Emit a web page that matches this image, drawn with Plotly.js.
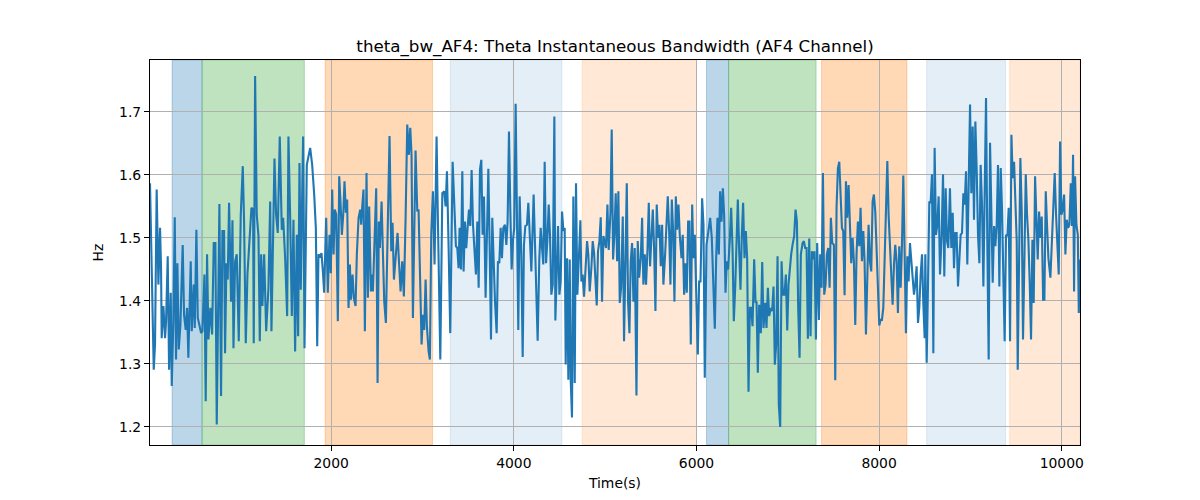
<!DOCTYPE html>
<html>
<head>
<meta charset="utf-8">
<script src="https://cdn.plot.ly/plotly-3.0.1.min.js"></script>
<style>
  body { margin: 0; background: #fff; }
  #myDiv { width: 1200px; height: 500px; }
</style>
</head>
<body>
<div id="myDiv"></div>
<script>
//  ======== DATA ========
var timeS = [
  16, 42, 57, 71, 89, 108, 126, 137, 144, 163, 181, 192, 210, 225, 243, 254, 272, 287, 301, 316,
  331, 349, 374, 389, 407, 422, 436, 462, 473, 495, 506, 524, 539, 557, 575, 590, 612, 626, 641, 656,
  677, 696, 714, 732, 747, 776, 794, 809, 827, 838, 853, 867, 882, 904, 919, 930, 948, 966, 988, 1010,
  1032, 1046, 1065, 1083, 1105, 1127, 1145, 1152, 1167, 1185, 1204, 1218, 1233, 1247, 1266, 1288, 1313, 1332, 1346, 1364,
  1379, 1397, 1415, 1437, 1459, 1474, 1496, 1518, 1532, 1551, 1569, 1587, 1605, 1624, 1638, 1653, 1667, 1679, 1693, 1708,
  1733, 1770, 1792, 1814, 1832, 1847, 1861, 1880, 1894, 1909, 1923, 1945, 1963, 1982, 1996, 2011, 2026, 2040, 2055, 2073,
  2088, 2102, 2117, 2132, 2146, 2161, 2175, 2190, 2205, 2216, 2234, 2248, 2267, 2281, 2300, 2318, 2329, 2340, 2354, 2369,
  2387, 2402, 2416, 2435, 2446, 2457, 2471, 2493, 2508, 2522, 2533, 2552, 2566, 2581, 2599, 2617, 2639, 2658, 2672, 2687,
  2705, 2727, 2742, 2760, 2778, 2796, 2815, 2833, 2851, 2866, 2880, 2895, 2924, 2943, 2957, 2975, 2990, 3005, 3019, 3034,
  3048, 3067, 3081, 3096, 3114, 3132, 3154, 3169, 3195, 3217, 3238, 3253, 3268, 3286, 3304, 3330, 3348, 3366, 3381, 3395,
  3406, 3421, 3436, 3450, 3465, 3479, 3494, 3509, 3523, 3538, 3553, 3571, 3585, 3600, 3615, 3629, 3644, 3658, 3673, 3691,
  3706, 3721, 3735, 3750, 3764, 3779, 3794, 3812, 3826, 3841, 3856, 3870, 3885, 3903, 3918, 3932, 3947, 3962, 3976, 3991,
  4005, 4020, 4035, 4049, 4064, 4082, 4097, 4111, 4126, 4144, 4159, 4174, 4192, 4217, 4236, 4261, 4279, 4294, 4309, 4323,
  4338, 4353, 4367, 4382, 4396, 4411, 4426, 4444, 4455, 4469, 4484, 4499, 4513, 4528, 4543, 4557, 4568, 4583, 4597, 4612,
  4623, 4637, 4652, 4667, 4681, 4696, 4714, 4729, 4740, 4754, 4769, 4787, 4802, 4816, 4831, 4849, 4864, 4879, 4893, 4908,
  4922, 4937, 4952, 4966, 4981, 4996, 5010, 5025, 5039, 5058, 5072, 5087, 5101,
  5116, 5131, 5145, 5160, 5175, 5193, 5207, 5222, 5237, 5251, 5266, 5280, 5295, 5310, 5324, 5343, 5357, 5372, 5390, 5405,
  5419, 5434, 5448, 5463, 5478, 5492, 5507, 5522, 5536, 5551, 5565, 5580, 5595, 5609, 5624, 5638, 5657, 5671, 5686, 5701,
  5715, 5730, 5744, 5759, 5774, 5788, 5803, 5817, 5836, 5850, 5865, 5880, 5894, 5909, 5923, 5938, 5953, 5967, 5982, 5996,
  6015, 6029, 6044, 6062, 6077, 6091, 6110, 6128, 6150, 6168, 6183, 6201, 6216, 6230, 6245, 6259, 6274, 6289, 6303, 6318,
  6332, 6347, 6365, 6380, 6395, 6409, 6424, 6438, 6453, 6468, 6482, 6497, 6511, 6526, 6541, 6555, 6570, 6585, 6599, 6614,
  6632, 6647, 6658, 6672, 6687, 6705, 6720, 6734, 6753, 6767, 6782, 6796,
  6815, 6829, 6844, 6858, 6873, 6888, 6902, 6917, 6932, 6946, 6964, 6979, 6994, 7008, 7023, 7037, 7052, 7070, 7085, 7100,
  7114, 7129, 7143, 7162, 7176, 7191, 7206, 7220, 7235, 7249, 7264, 7279, 7293, 7308, 7322, 7341, 7355, 7370, 7385, 7399,
  7414, 7428, 7443, 7458, 7472, 7487, 7505, 7520, 7534, 7549, 7564, 7578, 7593, 7607, 7622, 7637, 7651, 7666, 7680, 7695,
  7710, 7724, 7739, 7753, 7768, 7783, 7797, 7812, 7827, 7841, 7856, 7870, 7885, 7900, 7914, 7929, 7943, 7958, 7973, 7987,
  8002, 8016, 8031, 8046, 8060, 8075, 8090, 8104, 8119, 8133, 8148, 8163, 8177, 8192, 8206, 8221, 8236, 8250, 8265, 8280,
  8294, 8309, 8323, 8338, 8353, 8367, 8382, 8396, 8411, 8426, 8440, 8455, 8470, 8484, 8499,
  8506, 8521, 8535, 8550, 8565, 8579, 8594, 8608, 8623, 8638, 8652, 8667, 8685, 8700, 8714, 8729, 8744, 8758, 8776, 8791,
  8806, 8820, 8835, 8849, 8864, 8879, 8893, 8908, 8923, 8937, 8952, 8966, 8981, 8996, 9010, 9025, 9039, 9054, 9069, 9083,
  9098, 9112, 9127, 9142, 9156, 9171, 9186, 9200, 9215, 9229, 9244, 9259, 9273, 9288, 9302, 9317, 9332, 9346, 9361, 9375,
  9390, 9405, 9419, 9434, 9449, 9463, 9478, 9492, 9507, 9518, 9533, 9547, 9562, 9576, 9591, 9606, 9620, 9635, 9650, 9664,
  9679, 9693, 9708, 9723, 9737, 9752, 9766, 9781, 9796, 9810, 9825, 9839, 9854, 9876, 9894, 9909, 9923, 9938, 9953, 9967,
  9982, 9997, 10011, 10026, 10040, 10055, 10070, 10084, 10099, 10113, 10124, 10135, 10146, 10161, 10176, 10187, 10197
];

var bandwidthHz = [
  1.587, 1.421, 1.291, 1.331, 1.577, 1.426, 1.516, 1.452, 1.341, 1.392, 1.341, 1.368, 1.471, 1.291, 1.413, 1.265, 1.368, 1.533, 1.307, 1.460,
  1.323, 1.362, 1.489, 1.378, 1.354, 1.389, 1.310, 1.463, 1.352, 1.426, 1.357, 1.513, 1.373, 1.362, 1.349, 1.352, 1.442, 1.241, 1.474, 1.339,
  1.389, 1.347, 1.492, 1.492, 1.204, 1.554, 1.249, 1.511, 1.511, 1.317, 1.460, 1.434, 1.556, 1.399, 1.528, 1.325, 1.463, 1.474, 1.336, 1.537,
  1.614, 1.526, 1.333, 1.442, 1.495, 1.548, 1.545, 1.333, 1.757, 1.537, 1.503, 1.336, 1.474, 1.392, 1.474, 1.352, 1.421, 1.558, 1.352, 1.505,
  1.626, 1.537, 1.508, 1.661, 1.513, 1.532, 1.468, 1.376, 1.661, 1.532, 1.376, 1.529, 1.320, 1.505, 1.344, 1.619, 1.418, 1.537, 1.661, 1.325,
  1.616, 1.643, 1.616, 1.569, 1.516, 1.328, 1.474, 1.471, 1.476, 1.447, 1.413, 1.532, 1.413, 1.505, 1.444, 1.577, 1.474, 1.545, 1.537, 1.368,
  1.598, 1.558, 1.505, 1.537, 1.590, 1.540, 1.561, 1.389, 1.458, 1.402, 1.442, 1.405, 1.392, 1.474, 1.532, 1.545, 1.521, 1.550, 1.577, 1.352,
  1.603, 1.405, 1.550, 1.415, 1.442, 1.415, 1.479, 1.579, 1.270, 1.526, 1.484, 1.558, 1.479, 1.399, 1.365, 1.511, 1.662, 1.479, 1.524, 1.434,
  1.474, 1.508, 1.463, 1.415, 1.463, 1.407, 1.532, 1.680, 1.632, 1.675, 1.632, 1.373, 1.639, 1.542, 1.545, 1.410, 1.331, 1.378, 1.354, 1.434,
  1.360, 1.320, 1.307, 1.505, 1.574, 1.458, 1.661, 1.526, 1.307, 1.571, 1.574, 1.550, 1.606, 1.484, 1.349, 1.621, 1.558, 1.487, 1.484, 1.452,
  1.516, 1.450, 1.606, 1.447, 1.526, 1.484, 1.516, 1.545, 1.519, 1.608, 1.521, 1.466, 1.442, 1.526, 1.421, 1.608, 1.624, 1.505, 1.566, 1.405,
  1.511, 1.610, 1.489, 1.339, 1.532, 1.442, 1.399, 1.349, 1.463, 1.460, 1.516, 1.468, 1.516, 1.521, 1.489, 1.526, 1.669, 1.542, 1.450, 1.497,
  1.516, 1.713, 1.548, 1.354, 1.566, 1.474, 1.311, 1.489, 1.519, 1.521, 1.556, 1.505, 1.447, 1.569, 1.479, 1.337, 1.466, 1.516, 1.484, 1.458,
  1.621, 1.460, 1.495, 1.553, 1.505, 1.410, 1.426, 1.693, 1.369, 1.447, 1.519, 1.410, 1.431, 1.542, 1.511, 1.516, 1.299, 1.468, 1.275, 1.466,
  1.275, 1.215, 1.566, 1.270, 1.587, 1.410, 1.495, 1.528, 1.431, 1.442, 1.407, 1.447, 1.495, 1.474, 1.415, 1.452, 1.495, 1.476, 1.431, 1.393,
  1.479, 1.495, 1.533, 1.399, 1.503, 1.492, 1.484, 1.553, 1.481, 1.540, 1.672, 1.466, 1.505,
  1.571, 1.463, 1.574, 1.397, 1.421, 1.534, 1.336, 1.452, 1.587, 1.399, 1.349, 1.463, 1.492, 1.399, 1.484, 1.250, 1.495, 1.437, 1.468, 1.532,
  1.426, 1.474, 1.426, 1.479, 1.556, 1.455, 1.505, 1.545, 1.484, 1.384, 1.553, 1.500, 1.521, 1.455, 1.521, 1.426, 1.474, 1.516, 1.566, 1.511,
  1.426, 1.561, 1.513, 1.399, 1.566, 1.513, 1.553, 1.505, 1.468, 1.505, 1.410, 1.460, 1.413, 1.526, 1.526, 1.331, 1.553, 1.468, 1.505, 1.421,
  1.315, 1.431, 1.431, 1.563, 1.521, 1.278, 1.489, 1.508, 1.532, 1.500, 1.431, 1.356, 1.468, 1.532, 1.474, 1.574, 1.526, 1.579, 1.537, 1.413,
  1.463, 1.450, 1.497, 1.548, 1.484, 1.368, 1.421, 1.479, 1.561, 1.479, 1.418, 1.505, 1.556, 1.468, 1.511, 1.468, 1.256, 1.389, 1.389, 1.360,
  1.466, 1.397, 1.399, 1.286, 1.394, 1.349, 1.462, 1.357, 1.397, 1.357, 1.421, 1.376,
  1.389, 1.384, 1.423, 1.299, 1.331, 1.471, 1.235, 1.200, 1.463, 1.410, 1.410, 1.442, 1.353, 1.426, 1.460, 1.474, 1.489, 1.503, 1.545, 1.526,
  1.389, 1.310, 1.474, 1.492, 1.495, 1.484, 1.484, 1.340, 1.499, 1.344, 1.479, 1.466, 1.479, 1.339, 1.492, 1.370, 1.474, 1.421, 1.603, 1.410,
  1.426, 1.474, 1.484, 1.421, 1.532, 1.492, 1.489, 1.274, 1.548, 1.611, 1.621, 1.569, 1.516, 1.511, 1.409, 1.590, 1.532, 1.584, 1.524, 1.460,
  1.500, 1.463, 1.362, 1.474, 1.526, 1.487, 1.548, 1.463, 1.511, 1.463, 1.347, 1.452, 1.521, 1.463, 1.447, 1.558, 1.569, 1.542, 1.474, 1.421,
  1.361, 1.370, 1.370, 1.389, 1.463, 1.553, 1.622, 1.537, 1.489, 1.452, 1.394, 1.458, 1.489, 1.463, 1.381, 1.487, 1.421, 1.487, 1.599, 1.474,
  1.349, 1.471, 1.431, 1.492, 1.460, 1.431, 1.410, 1.426, 1.455, 1.365, 1.389, 1.442, 1.474, 1.397, 1.341,
  1.474, 1.302, 1.421, 1.558, 1.556, 1.601, 1.317, 1.643, 1.505, 1.521, 1.566, 1.442, 1.505, 1.601, 1.439, 1.579, 1.495, 1.484, 1.579, 1.484,
  1.540, 1.452, 1.508, 1.508, 1.423, 1.468, 1.505, 1.508, 1.571, 1.553, 1.606, 1.458, 1.569, 1.712, 1.571, 1.677, 1.529, 1.685, 1.606, 1.505,
  1.460, 1.616, 1.553, 1.423, 1.569, 1.722, 1.479, 1.307, 1.651, 1.526, 1.429, 1.519, 1.487, 1.521, 1.616, 1.423, 1.611, 1.545, 1.452, 1.336,
  1.505, 1.503, 1.548, 1.336, 1.664, 1.595, 1.621, 1.542, 1.495, 1.291, 1.474, 1.627, 1.542, 1.339, 1.463, 1.601, 1.537, 1.497, 1.426, 1.339,
  1.497, 1.397, 1.598, 1.532, 1.466, 1.542, 1.500, 1.534, 1.402, 1.402, 1.574, 1.521, 1.468, 1.437, 1.505, 1.532, 1.603, 1.537, 1.484, 1.442,
  1.653, 1.537, 1.545, 1.569, 1.474, 1.529, 1.516, 1.521, 1.587, 1.519, 1.632, 1.415, 1.598, 1.521, 1.505, 1.381, 1.466
];

// shaded phases (start / end in seconds) and their fill
var phaseStart = [258, 586, 1934, 3304, 4749, 6110, 6352, 7370, 8521, 9430];
var phaseEnd   = [586, 1706, 3110, 4526, 6000, 6352, 7310, 8305, 9384, 10200];
var phaseColor = [
  'rgba(31,119,180,0.3)', 'rgba(44,160,44,0.3)', 'rgba(255,127,14,0.3)',
  'rgba(31,119,180,0.12)', 'rgba(255,127,14,0.17)',
  'rgba(31,119,180,0.3)', 'rgba(44,160,44,0.3)', 'rgba(255,127,14,0.3)',
  'rgba(31,119,180,0.12)', 'rgba(255,127,14,0.17)'
];

var xTicks = [2000, 4000, 6000, 8000, 10000];
var yTicks = [1.2, 1.3, 1.4, 1.5, 1.6, 1.7];

//  ======== PLOT ========
var shapes = [];
for (var i = 0; i < phaseStart.length; i++) {
  shapes.push({
    type: 'rect',
    xref: 'x', yref: 'paper',
    x0: phaseStart[i], x1: phaseEnd[i],
    y0: 0, y1: 1,
    fillcolor: phaseColor[i],
    line: {color: phaseColor[i], width: 1},
    layer: 'between'
  });
}

var trace1 = {
  x: timeS,
  y: bandwidthHz,
  mode: 'lines',
  type: 'scatter',
  line: {color: '#1f77b4', width: 2.1},
  hoverinfo: 'x+y'
};

var axisFont = {family: 'DejaVu Sans, sans-serif', size: 13.9, color: '#000'};

var layout = {
  width: 1200,
  height: 500,
  showlegend: false,
  font: axisFont,
  title: {
    text: 'theta_bw_AF4: Theta Instantaneous Bandwidth (AF4 Channel)',
    font: {family: 'DejaVu Sans, sans-serif', size: 16.7, color: '#000'},
    x: 0.5, xref: 'paper',
    y: 0.908, yref: 'container', yanchor: 'middle'
  },
  xaxis: {
    range: [16, 10200],
    tickvals: xTicks,
    ticktext: xTicks.map(String),
    ticks: 'outside', ticklen: 5, tickwidth: 1, tickcolor: '#000',
    showgrid: true, gridcolor: '#b0b0b0', gridwidth: 1.1,
    zeroline: false,
    showline: true, linecolor: '#000', linewidth: 1.1, mirror: true,
    tickfont: axisFont,
    title: {text: 'Time(s)', font: axisFont, standoff: 8},
    automargin: false
  },
  yaxis: {
    range: [1.1714, 1.7825],
    tickvals: yTicks,
    ticktext: yTicks.map(function(v) { return v.toFixed(1); }),
    ticks: 'outside', ticklen: 5, tickwidth: 1, tickcolor: '#000',
    showgrid: true, gridcolor: '#b0b0b0', gridwidth: 1.1,
    zeroline: false,
    showline: true, linecolor: '#000', linewidth: 1.1, mirror: true,
    tickfont: axisFont,
    title: {text: 'Hz', font: axisFont, standoff: 12},
    automargin: false
  },
  shapes: shapes,
  margin: {l: 150, r: 120, t: 60, b: 55, pad: 0},
  plot_bgcolor: '#fff',
  paper_bgcolor: '#fff'
};

Plotly.newPlot('myDiv', [trace1], layout, {displayModeBar: false});
</script>
</body>
</html>
